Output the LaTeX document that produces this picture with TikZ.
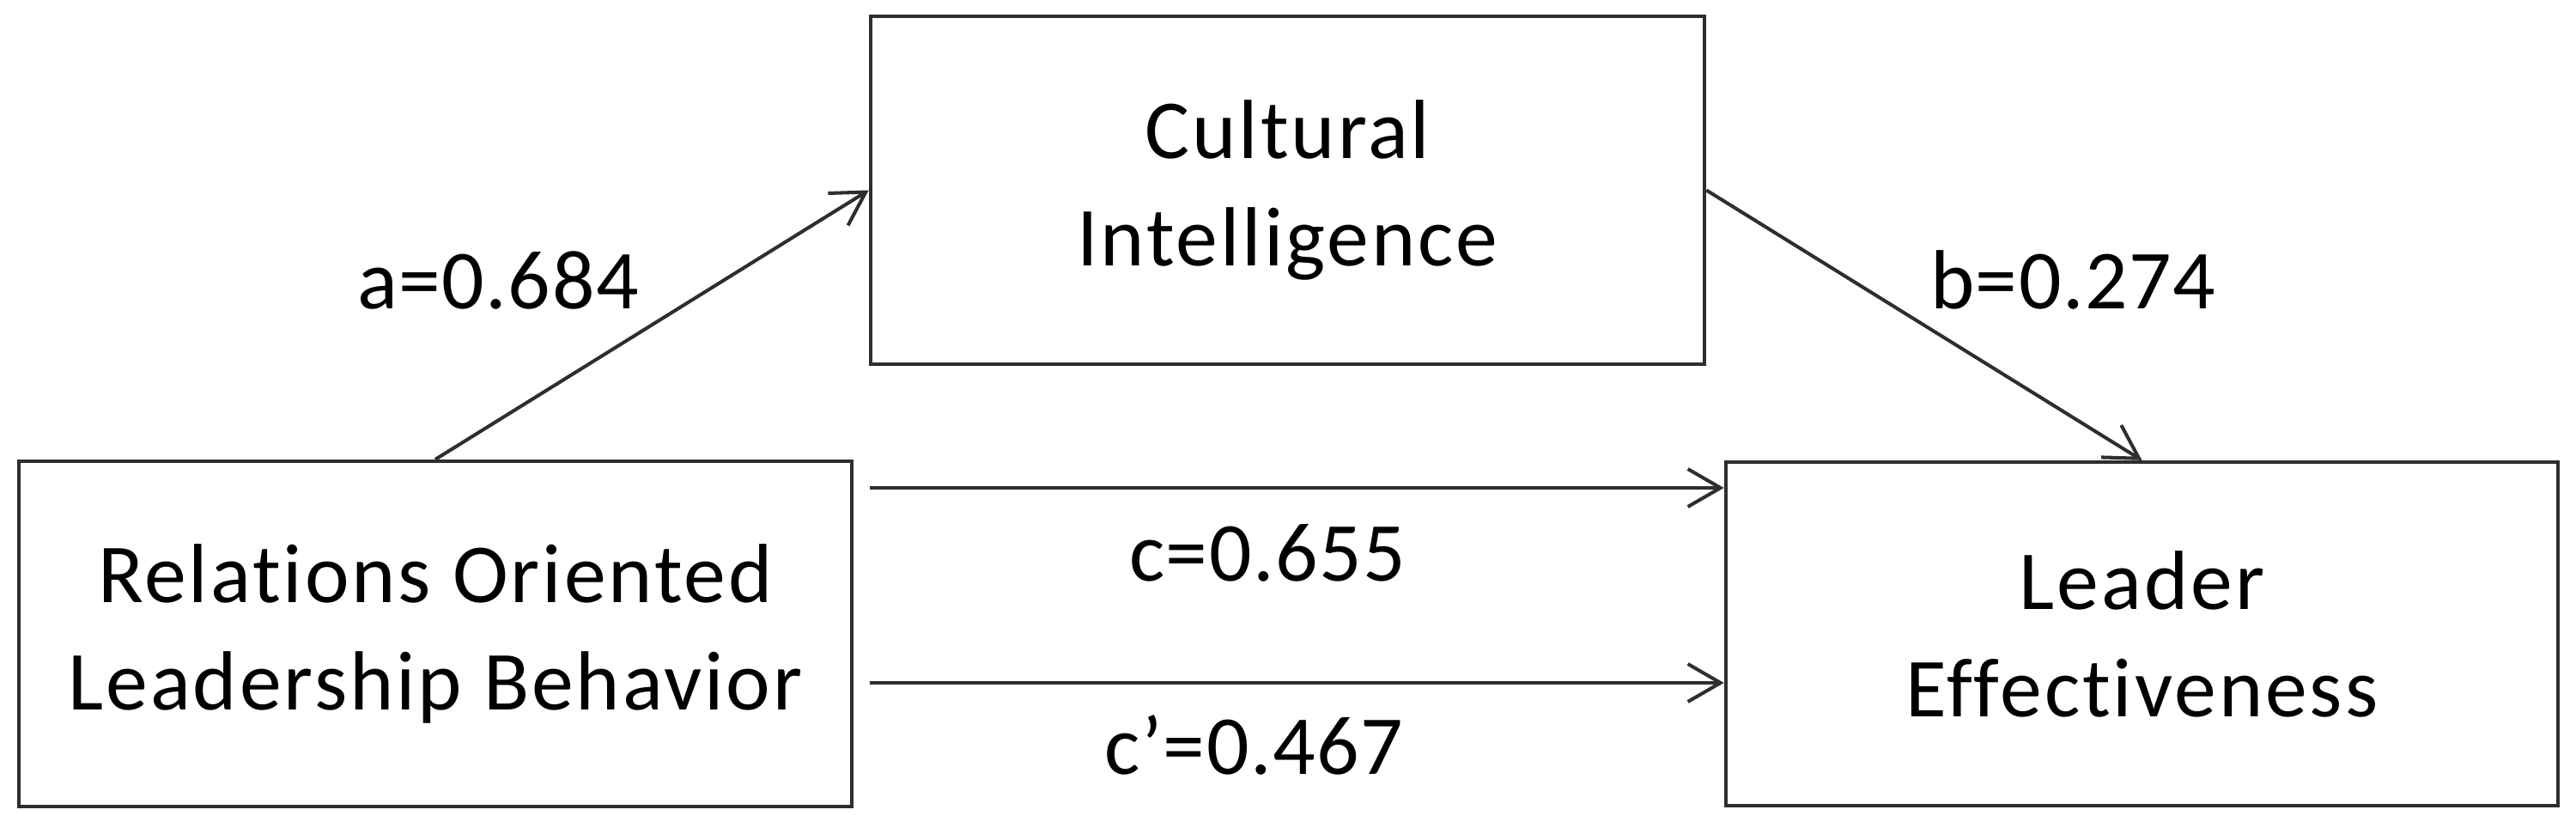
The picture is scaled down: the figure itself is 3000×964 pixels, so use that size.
\documentclass[tikz,border=0pt]{standalone}
\usepackage{fontspec}
\setmainfont{Carlito}[Ligatures={NoCommon,NoRare,NoContextual}]
\newfontfamily\boxfont{Carlito}[Ligatures={NoCommon,NoRare,NoContextual},LetterSpace=3]
\newfontfamily\lblfont{Carlito}[Ligatures={NoCommon,NoRare,NoContextual},LetterSpace=1.5]
\usetikzlibrary{arrows.meta}
\begin{document}
\begin{tikzpicture}[x=0.01cm,y=-0.01cm,
  box/.style={font=\boxfont\fontsize{27.8}{35.5}\selectfont, draw=black!82, line width=1.15pt, rectangle, inner sep=0pt, align=center},
  conn/.style={draw=black!82, line width=1.15pt, -{Straight Barb[length=0.38cm,width=0.44cm]}},
  lbl/.style={font=\lblfont\fontsize{27.8}{35.5}\selectfont, anchor=base, inner sep=0pt}]
\fill[white] (0,0) rectangle (3000,964);
\useasboundingbox (0,0) rectangle (3000,964);
\node[box, minimum width=9.70cm, minimum height=4.02cm] (L) at (507,738) {Relations Oriented\\Leadership Behavior};
\node[box, minimum width=9.71cm, minimum height=4.05cm] (T) at (1499.5,221.5) {Cultural\\Intelligence};
\node[box, minimum width=9.69cm, minimum height=4.00cm] (R) at (2494.5,738) {Leader\\Effectiveness};
\node[lbl] (la) at (580,360) {a=0.684};
\node[lbl] (lb) at (2414,360) {b=0.274};
\node[lbl] (lc) at (1476,676) {c=0.655};
\node[lbl] (lcp) at (1460,901) {c’=0.467};
\coordinate (c1) at (1013,568);
\coordinate (c2) at (1013,795);
\draw[conn] (L.north) -- (T.west);
\draw[conn] (T.east) -- (R.north);
\draw[conn] (c1) -- (R.west |- c1);
\draw[conn] (c2) -- (R.west |- c2);
\end{tikzpicture}
\end{document}
